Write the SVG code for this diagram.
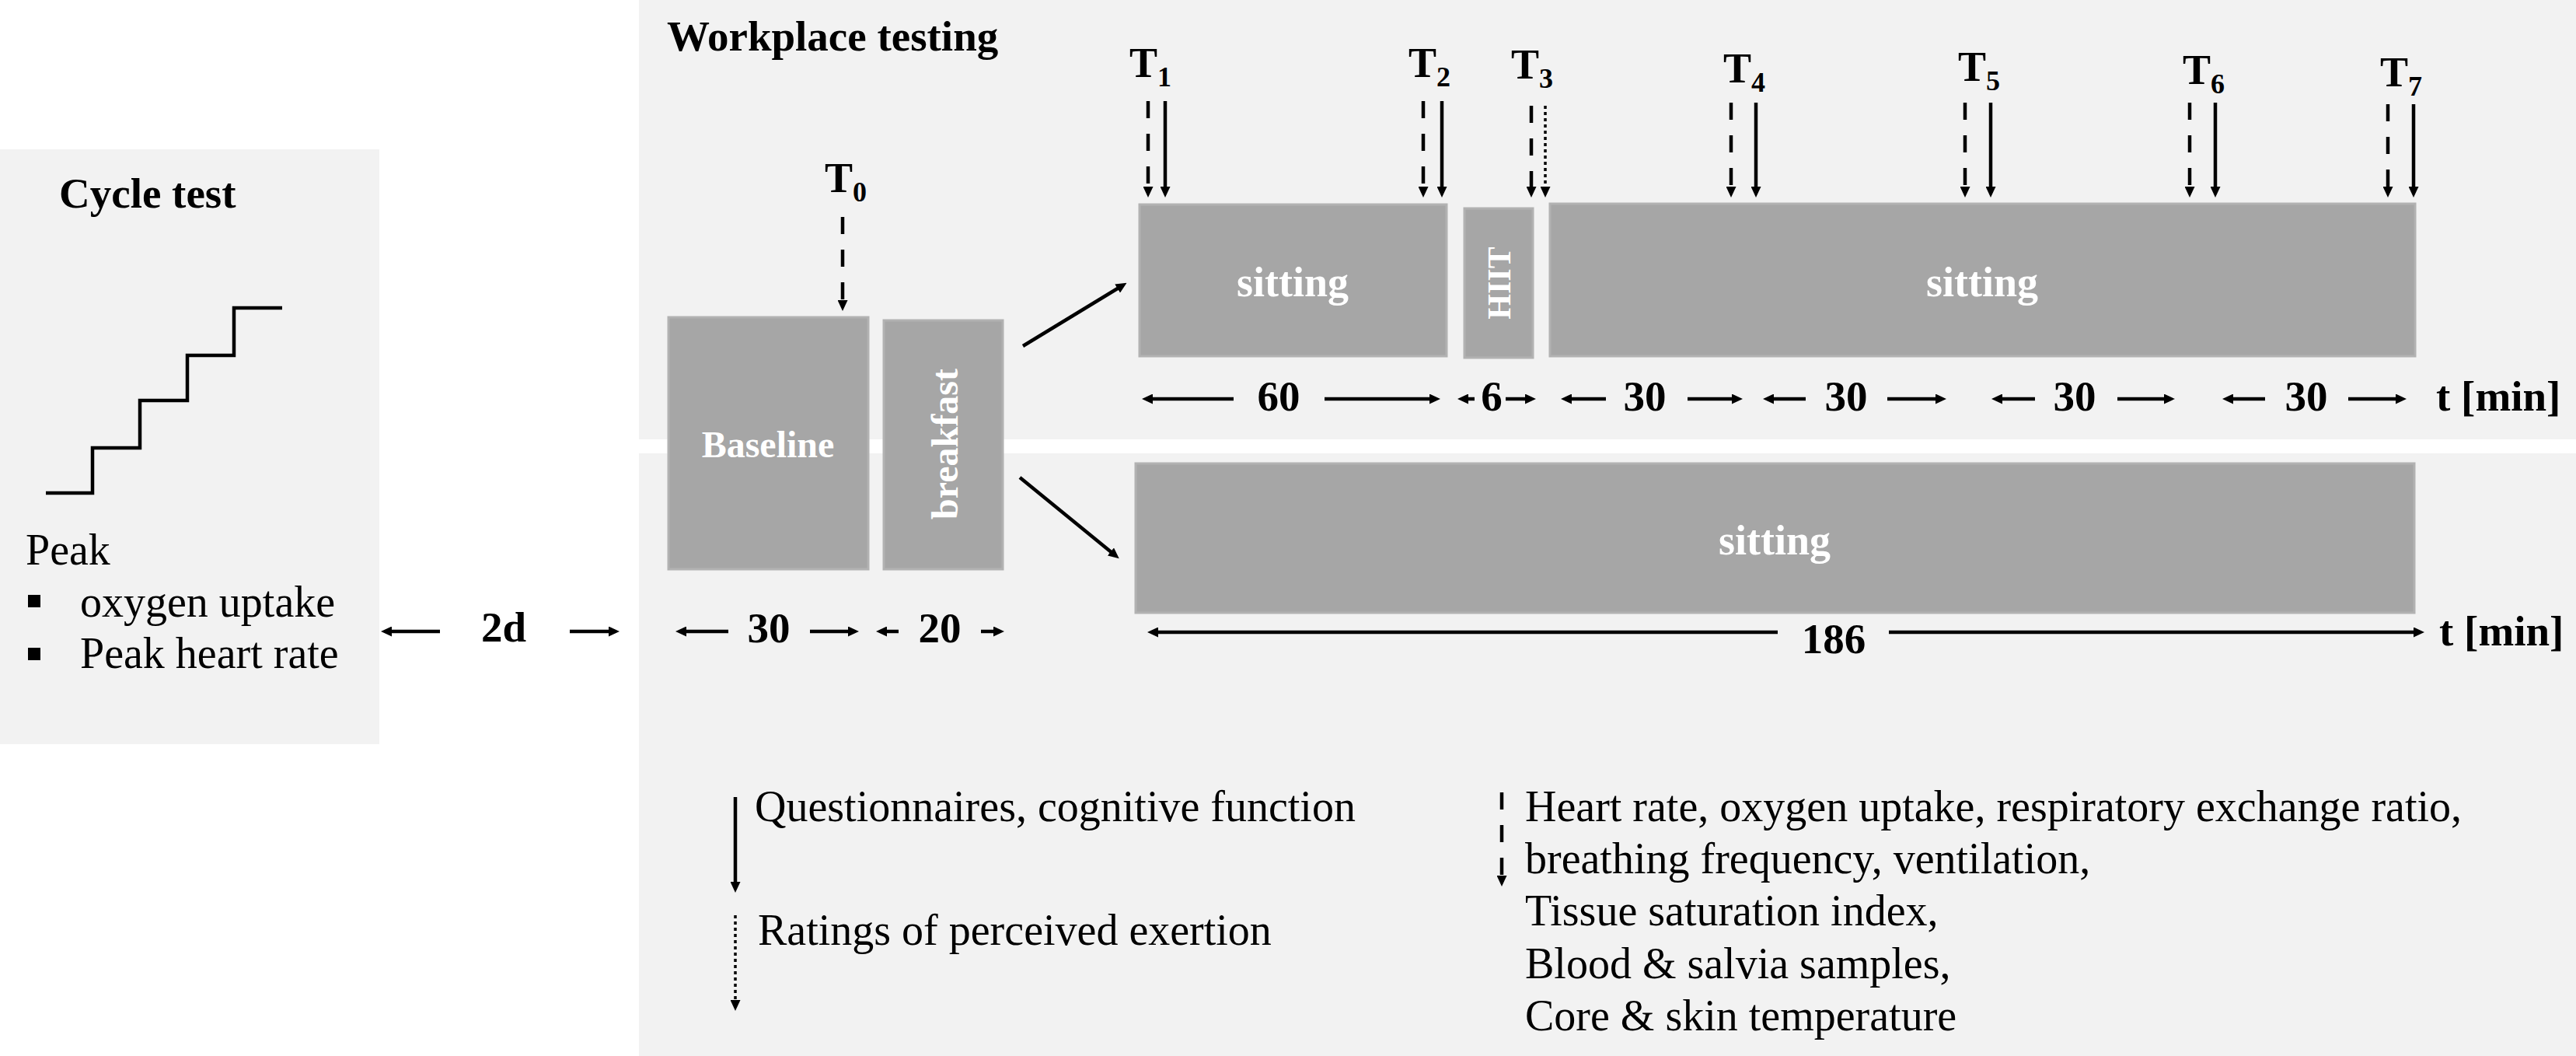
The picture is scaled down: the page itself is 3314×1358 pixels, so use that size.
<svg xmlns="http://www.w3.org/2000/svg" width="3314" height="1358" viewBox="0 0 3314 1358">
<style>
.bg{fill:#f2f2f2}
.box{fill:#a6a6a6;stroke:#b2b2b2;stroke-width:3}
.t{font-family:"Liberation Serif","Times New Roman",serif;fill:#000}
.b{font-weight:bold}
.w{fill:#fff;font-weight:bold}
.ln{stroke:#000;stroke-width:4.5;fill:none}
.ar{stroke:#000;stroke-width:4.5;fill:none;marker-end:url(#ah)}
.da{stroke-dasharray:22 20}
.do{stroke-dasharray:4 4;stroke-width:3.5}
</style>
<defs>
<marker id="ah" viewBox="0 0 14 13" refX="4" refY="6.5" markerWidth="14" markerHeight="13" markerUnits="userSpaceOnUse" orient="auto">
<path d="M0,0 L14,6.5 L0,13 z" fill="#000"/>
</marker>
</defs>
<rect width="3314" height="1358" fill="#fff"/>

<g id="cycle-test">
<rect class="bg" x="0" y="192" width="488" height="765"/>
<text class="t b" x="76" y="267" font-size="55">Cycle test</text>
<path class="ln" stroke-width="5" d="M59,634 H119 V576 H180 V515 H241 V457 H301 V396 H363"/>
<text class="t" x="33" y="726" font-size="56">Peak</text>
<rect x="36" y="765" width="16" height="16" fill="#000"/>
<text class="t" x="103" y="793" font-size="56">oxygen  uptake</text>
<rect x="36" y="833" width="16" height="16" fill="#000"/>
<text class="t" x="103" y="859" font-size="56">Peak heart rate</text>
</g>

<g id="workplace-bg">
<rect class="bg" x="822" y="0" width="2492" height="1358"/>
<rect x="822" y="565" width="2492" height="18" fill="#fff"/>
<text class="t b" x="858" y="65" font-size="55">Workplace testing</text>
</g>

<g id="baseline">
<rect class="box" x="860" y="408" width="257" height="324"/>
<text class="t w" x="988" y="588" font-size="48" text-anchor="middle">Baseline</text>
</g>
<g id="breakfast">
<rect class="box" x="1137" y="412" width="153" height="320"/>
<text class="t w" transform="translate(1232,571) rotate(-90)" font-size="48" text-anchor="middle">breakfast</text>
</g>
<g id="sitting-1">
<rect class="box" x="1466" y="263" width="395" height="195"/>
<text class="t w" x="1663" y="381" font-size="54" text-anchor="middle">sitting</text>
</g>
<g id="hiit">
<rect class="box" x="1884" y="268" width="88" height="192"/>
<text class="t w" transform="translate(1943,364) rotate(-90)" font-size="42" text-anchor="middle">HIIT</text>
</g>
<g id="sitting-2">
<rect class="box" x="1994" y="262" width="1113" height="196"/>
<text class="t w" x="2550" y="381" font-size="54" text-anchor="middle">sitting</text>
</g>
<g id="sitting-control">
<rect class="box" x="1461" y="596" width="1645" height="192"/>
<text class="t w" x="2283" y="713" font-size="54" text-anchor="middle">sitting</text>
</g>

<g id="timepoint-labels" class="t b" font-size="54">
<text x="1061" y="247">T<tspan font-size="36" dy="12">0</tspan></text>
<text x="1453" y="99">T<tspan font-size="36" dy="12">1</tspan></text>
<text x="1812" y="99">T<tspan font-size="36" dy="12">2</tspan></text>
<text x="1944" y="101">T<tspan font-size="36" dy="12">3</tspan></text>
<text x="2217" y="106">T<tspan font-size="36" dy="12">4</tspan></text>
<text x="2519" y="104">T<tspan font-size="36" dy="12">5</tspan></text>
<text x="2808" y="108">T<tspan font-size="36" dy="12">6</tspan></text>
<text x="3062" y="111">T<tspan font-size="36" dy="12">7</tspan></text>
</g>

<g id="dimension-labels" class="t b" font-size="55" text-anchor="middle">
<text x="1645" y="528">60</text>
<text x="1919" y="528">6</text>
<text x="2116" y="528">30</text>
<text x="2375" y="528">30</text>
<text x="2669" y="528">30</text>
<text x="2967" y="528">30</text>
<text x="3134" y="528" text-anchor="start">t [min]</text>
<text x="648" y="825">2d</text>
<text x="989" y="826">30</text>
<text x="1209" y="826">20</text>
<text x="2359" y="840">186</text>
<text x="3138" y="830" text-anchor="start">t [min]</text>
</g>

<g id="legend" class="t" font-size="56">
<text x="971" y="1056">Questionnaires, cognitive function</text>
<text x="975" y="1215">Ratings of perceived exertion</text>
<text x="1962" y="1056">Heart rate, oxygen uptake, respiratory exchange ratio,</text>
<text x="1962" y="1123">breathing frequency, ventilation,</text>
<text x="1962" y="1190">Tissue saturation index,</text>
<text x="1962" y="1258">Blood &amp; salvia samples,</text>
<text x="1962" y="1325">Core &amp; skin temperature</text>
</g>

<g id="connectors">
<line class="ar da" x1="1084" y1="279" x2="1084" y2="390"/>
<line class="ar da" x1="1477" y1="130" x2="1477" y2="244"/>
<line class="ar" stroke-width="4" x1="1499" y1="130" x2="1499" y2="244"/>
<line class="ar da" x1="1831" y1="130" x2="1831" y2="244"/>
<line class="ar" stroke-width="4" x1="1855" y1="130" x2="1855" y2="244"/>
<line class="ar da" x1="1970" y1="136" x2="1970" y2="244"/>
<line class="ar do" x1="1988" y1="136" x2="1988" y2="244"/>
<line class="ar da" x1="2227" y1="132" x2="2227" y2="244"/>
<line class="ar" stroke-width="4" x1="2259" y1="132" x2="2259" y2="244"/>
<line class="ar da" x1="2528" y1="132" x2="2528" y2="244"/>
<line class="ar" stroke-width="4" x1="2561" y1="132" x2="2561" y2="244"/>
<line class="ar da" x1="2817" y1="132" x2="2817" y2="244"/>
<line class="ar" stroke-width="4" x1="2850" y1="132" x2="2850" y2="244"/>
<line class="ar da" x1="3072" y1="134" x2="3072" y2="244"/>
<line class="ar" stroke-width="4" x1="3105" y1="134" x2="3105" y2="244"/>
<line class="ar" stroke-width="5" x1="1316" y1="445" x2="1441" y2="369"/>
<line class="ar" stroke-width="5" x1="1312" y1="614" x2="1432" y2="712"/>
<line class="ar" x1="1587" y1="513" x2="1479" y2="513"/>
<line class="ar" x1="1704" y1="513" x2="1843" y2="513"/>
<line class="ar" x1="1897" y1="513" x2="1885" y2="513"/>
<line class="ar" x1="1937" y1="513" x2="1966" y2="513"/>
<line class="ar" x1="2066" y1="513" x2="2018" y2="513"/>
<line class="ar" x1="2171" y1="513" x2="2232" y2="513"/>
<line class="ar" x1="2323" y1="513" x2="2278" y2="513"/>
<line class="ar" x1="2428" y1="513" x2="2494" y2="513"/>
<line class="ar" x1="2618" y1="513" x2="2572" y2="513"/>
<line class="ar" x1="2724" y1="513" x2="2788" y2="513"/>
<line class="ar" x1="2914" y1="513" x2="2869" y2="513"/>
<line class="ar" x1="3021" y1="513" x2="3086" y2="513"/>
<line class="ar" x1="566" y1="812" x2="500" y2="812"/>
<line class="ar" x1="733" y1="812" x2="787" y2="812"/>
<line class="ar" x1="937" y1="812" x2="879" y2="812"/>
<line class="ar" x1="1042" y1="812" x2="1095" y2="812"/>
<line class="ar" x1="1156" y1="812" x2="1137" y2="812"/>
<line class="ar" x1="1262" y1="812" x2="1282" y2="812"/>
<line class="ar" x1="2287" y1="813" x2="1486" y2="813"/>
<line class="ar" x1="2430" y1="813" x2="3109" y2="813"/>
<line class="ar" stroke-width="4" x1="946" y1="1025" x2="946" y2="1138"/>
<line class="ar do" x1="946" y1="1177" x2="946" y2="1290"/>
<line class="ar da" x1="1932" y1="1019" x2="1932" y2="1130"/>
</g>
</svg>
